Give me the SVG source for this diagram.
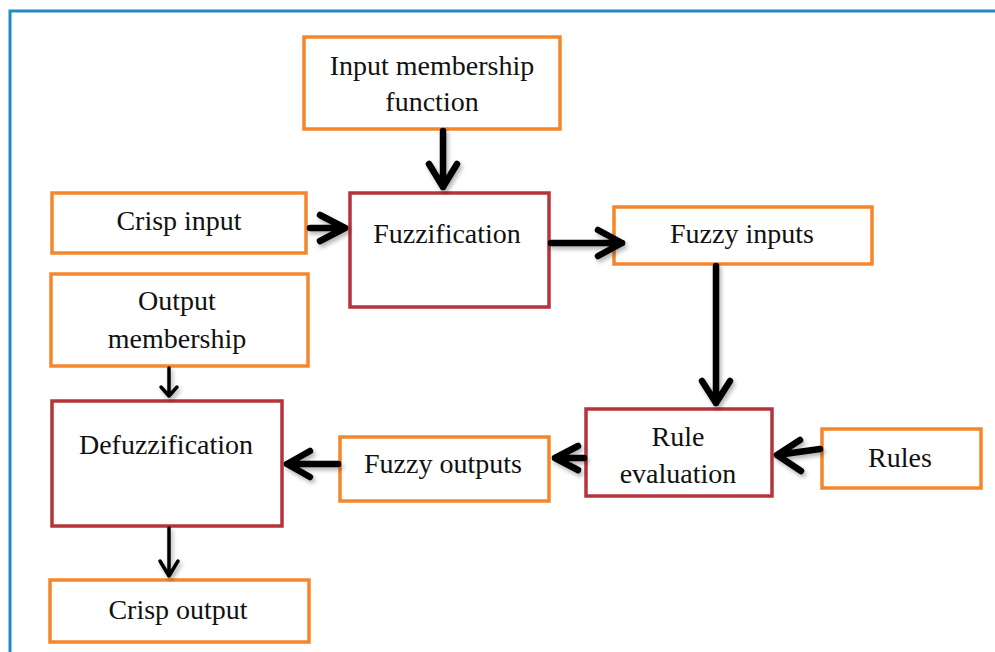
<svg xmlns="http://www.w3.org/2000/svg" width="995" height="652" viewBox="0 0 995 652">
<defs>
<style>
.o{fill:#fff;stroke:#F5862B;stroke-width:3.5}
.r{fill:#fff;stroke:#B5333A;stroke-width:3.5}
text{font-family:"Liberation Serif","Times New Roman",serif;font-size:28px;fill:#111;text-anchor:middle}
.c path{fill:none;stroke:#000;stroke-linecap:round;stroke-linejoin:round}
.k{stroke-width:6.5}
.t{stroke-width:3.5}
</style>
<filter id="sh" x="-20%" y="-20%" width="140%" height="140%">
<feDropShadow dx="2" dy="3" stdDeviation="2" flood-color="#000" flood-opacity="0.3"/>
</filter>
</defs>
<rect width="995" height="652" fill="#fff"/>
<path d="M10,652 V11 H995" fill="none" stroke="#1E8BC3" stroke-width="3"/>

<g id="input-membership"><rect class="o" x="304" y="37" width="256" height="92"/><text x="432" y="75">Input membership</text><text x="432" y="111">function</text></g>
<g id="crisp-input"><rect class="o" x="52" y="193" width="254" height="60"/><text x="179" y="230">Crisp input</text></g>
<g id="fuzzification"><rect class="r" x="350" y="193" width="199" height="114"/><text x="447" y="243">Fuzzification</text></g>
<g id="fuzzy-inputs"><rect class="o" x="614" y="207" width="258" height="57"/><text x="742" y="243">Fuzzy inputs</text></g>
<g id="output-membership"><rect class="o" x="51" y="274" width="257" height="92"/><text x="177" y="310">Output</text><text x="177" y="348">membership</text></g>
<g id="defuzzification"><rect class="r" x="52" y="401" width="230" height="125"/><text x="166" y="454">Defuzzification</text></g>
<g id="fuzzy-outputs"><rect class="o" x="340" y="437" width="209" height="64"/><text x="443" y="473">Fuzzy outputs</text></g>
<g id="rule-evaluation"><rect class="r" x="586" y="409" width="186" height="87"/><text x="678" y="446">Rule</text><text x="678" y="483">evaluation</text></g>
<g id="rules"><rect class="o" x="822" y="429" width="159" height="59"/><text x="900" y="467">Rules</text></g>
<g id="crisp-output"><rect class="o" x="50" y="580" width="259" height="62"/><text x="178" y="619">Crisp output</text></g>

<g id="connectors" class="c" filter="url(#sh)">
<path class="k" d="M443,131 V187 M429,164 L443,187 L457,164"/>
<path class="k" d="M310,228 H345 M320,215 L345,228 L320,241"/>
<path class="k" d="M551,243 H622 M598,230 L622,243 L598,256"/>
<path class="k" d="M716,266 V403 M702,381 L716,403 L730,381"/>
<path class="k" d="M820,449 L777,455 M800,440 L777,455 L801,471"/>
<path class="k" d="M584,458 H555 M578,446 L555,458 L578,470"/>
<path class="k" d="M338,464 H287 M310,451 L287,464 L310,477"/>
<path class="t" d="M169,368 V396 M161,387 L169,396 L177,387"/>
<path class="t" d="M169,528 V576 M160,561 L169,576 L178,561"/>
</g>
</svg>
